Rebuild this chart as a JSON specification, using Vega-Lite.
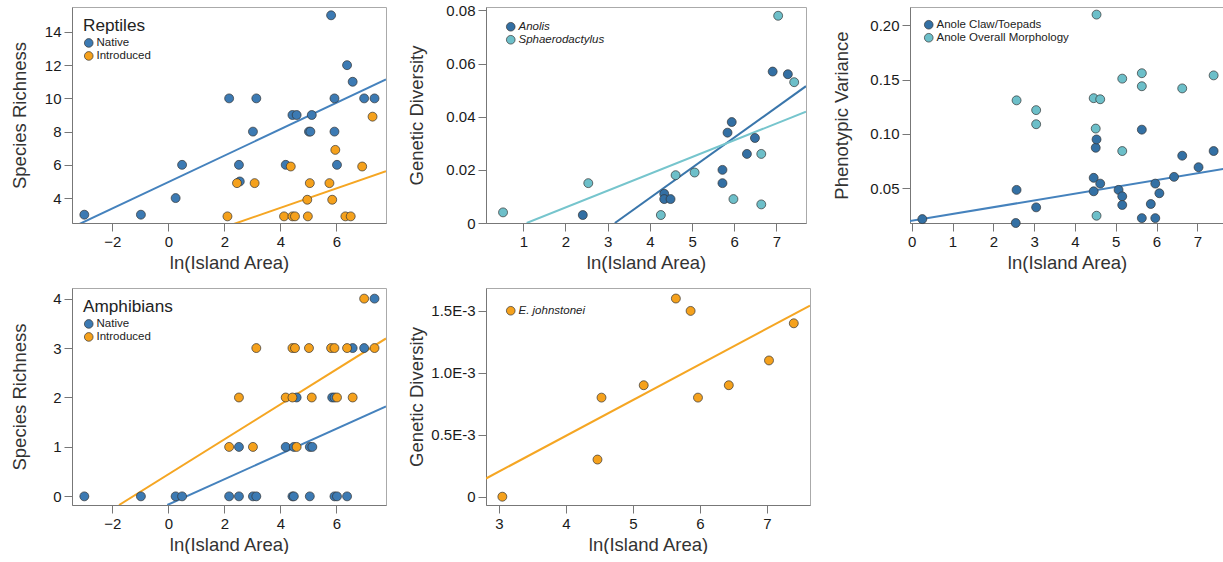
{
  "$schema": "https://vega.github.io/schema/vega-lite/v6.json",
  "padding": {"left": 10, "top": 2, "right": 0, "bottom": 0},
  "background": "white",
  "datasets": {
    "p1_points": [
      {"x": -3, "y": 3, "group": "Native"}, {"x": -0.98, "y": 3, "group": "Native"}, {"x": 0.26, "y": 4, "group": "Native"},
      {"x": 0.49, "y": 6, "group": "Native"}, {"x": 2.17, "y": 10, "group": "Native"}, {"x": 3.14, "y": 10, "group": "Native"},
      {"x": 3.02, "y": 8, "group": "Native"}, {"x": 2.52, "y": 6, "group": "Native"}, {"x": 2.55, "y": 5, "group": "Native"},
      {"x": 4.19, "y": 6, "group": "Native"}, {"x": 4.43, "y": 9, "group": "Native"}, {"x": 4.58, "y": 9, "group": "Native"},
      {"x": 5.12, "y": 9, "group": "Native"}, {"x": 5.02, "y": 8, "group": "Native"}, {"x": 5.07, "y": 8, "group": "Native"},
      {"x": 5.81, "y": 15, "group": "Native"}, {"x": 5.93, "y": 10, "group": "Native"}, {"x": 5.93, "y": 8, "group": "Native"},
      {"x": 6.02, "y": 6, "group": "Native"}, {"x": 6.38, "y": 12, "group": "Native"}, {"x": 6.58, "y": 11, "group": "Native"},
      {"x": 6.99, "y": 10, "group": "Native"}, {"x": 7.36, "y": 10, "group": "Native"},
      {"x": 2.11, "y": 2.9, "group": "Introduced"}, {"x": 2.45, "y": 4.9, "group": "Introduced"}, {"x": 3.08, "y": 4.9, "group": "Introduced"},
      {"x": 4.37, "y": 5.9, "group": "Introduced"}, {"x": 4.13, "y": 2.9, "group": "Introduced"}, {"x": 4.43, "y": 2.9, "group": "Introduced"},
      {"x": 4.52, "y": 2.9, "group": "Introduced"}, {"x": 4.96, "y": 3.9, "group": "Introduced"}, {"x": 5.05, "y": 4.9, "group": "Introduced"},
      {"x": 4.98, "y": 2.9, "group": "Introduced"}, {"x": 5.75, "y": 4.9, "group": "Introduced"}, {"x": 5.96, "y": 6.9, "group": "Introduced"},
      {"x": 5.85, "y": 3.9, "group": "Introduced"}, {"x": 6.32, "y": 2.9, "group": "Introduced"}, {"x": 6.51, "y": 2.9, "group": "Introduced"},
      {"x": 6.92, "y": 5.9, "group": "Introduced"}, {"x": 7.29, "y": 8.9, "group": "Introduced"}
    ],
    "p1_lines": [
      {"x": -3.44, "y": 2.23, "group": "Native"}, {"x": 7.77, "y": 11.14, "group": "Native"},
      {"x": 2.3, "y": 2.42, "group": "Introduced"}, {"x": 7.77, "y": 5.62, "group": "Introduced"}
    ],
    "p2_points": [
      {"x": 2.41, "y": 0.003, "group": "Anolis"}, {"x": 4.34, "y": 0.011, "group": "Anolis"}, {"x": 4.34, "y": 0.009, "group": "Anolis"},
      {"x": 4.49, "y": 0.009, "group": "Anolis"}, {"x": 5.72, "y": 0.02, "group": "Anolis"}, {"x": 5.72, "y": 0.015, "group": "Anolis"},
      {"x": 5.84, "y": 0.034, "group": "Anolis"}, {"x": 5.94, "y": 0.038, "group": "Anolis"}, {"x": 6.3, "y": 0.026, "group": "Anolis"},
      {"x": 6.49, "y": 0.032, "group": "Anolis"}, {"x": 6.91, "y": 0.057, "group": "Anolis"}, {"x": 7.27, "y": 0.056, "group": "Anolis"},
      {"x": 0.52, "y": 0.004, "group": "Sphaerodactylus"}, {"x": 2.54, "y": 0.015, "group": "Sphaerodactylus"},
      {"x": 4.26, "y": 0.003, "group": "Sphaerodactylus"}, {"x": 4.61, "y": 0.018, "group": "Sphaerodactylus"},
      {"x": 5.06, "y": 0.019, "group": "Sphaerodactylus"}, {"x": 5.98, "y": 0.009, "group": "Sphaerodactylus"},
      {"x": 6.64, "y": 0.026, "group": "Sphaerodactylus"}, {"x": 6.64, "y": 0.007, "group": "Sphaerodactylus"},
      {"x": 7.04, "y": 0.078, "group": "Sphaerodactylus"}, {"x": 7.42, "y": 0.053, "group": "Sphaerodactylus"}
    ],
    "p2_lines": [
      {"x": 3.17, "y": 0, "group": "Anolis"}, {"x": 7.7, "y": 0.0515, "group": "Anolis"},
      {"x": 1.08, "y": 0, "group": "Sphaerodactylus"}, {"x": 7.7, "y": 0.0419, "group": "Sphaerodactylus"}
    ],
    "p3_points": [
      {"x": 0.26, "y": 0.0216, "group": "Anole Claw/Toepads"}, {"x": 2.57, "y": 0.0485, "group": "Anole Claw/Toepads"},
      {"x": 2.55, "y": 0.018, "group": "Anole Claw/Toepads"}, {"x": 3.05, "y": 0.0324, "group": "Anole Claw/Toepads"},
      {"x": 4.46, "y": 0.0596, "group": "Anole Claw/Toepads"}, {"x": 4.46, "y": 0.0472, "group": "Anole Claw/Toepads"},
      {"x": 4.51, "y": 0.0873, "group": "Anole Claw/Toepads"}, {"x": 4.53, "y": 0.095, "group": "Anole Claw/Toepads"},
      {"x": 4.62, "y": 0.0543, "group": "Anole Claw/Toepads"}, {"x": 5.07, "y": 0.0485, "group": "Anole Claw/Toepads"},
      {"x": 5.16, "y": 0.0426, "group": "Anole Claw/Toepads"}, {"x": 5.16, "y": 0.0346, "group": "Anole Claw/Toepads"},
      {"x": 5.64, "y": 0.104, "group": "Anole Claw/Toepads"}, {"x": 5.64, "y": 0.0225, "group": "Anole Claw/Toepads"},
      {"x": 5.86, "y": 0.0355, "group": "Anole Claw/Toepads"}, {"x": 5.97, "y": 0.0543, "group": "Anole Claw/Toepads"},
      {"x": 5.97, "y": 0.0225, "group": "Anole Claw/Toepads"}, {"x": 6.07, "y": 0.0454, "group": "Anole Claw/Toepads"},
      {"x": 6.43, "y": 0.0605, "group": "Anole Claw/Toepads"}, {"x": 6.63, "y": 0.08, "group": "Anole Claw/Toepads"},
      {"x": 7.03, "y": 0.0694, "group": "Anole Claw/Toepads"}, {"x": 7.4, "y": 0.0843, "group": "Anole Claw/Toepads"},
      {"x": 2.57, "y": 0.131, "group": "Anole Overall Morphology"}, {"x": 3.05, "y": 0.122, "group": "Anole Overall Morphology"},
      {"x": 3.05, "y": 0.109, "group": "Anole Overall Morphology"}, {"x": 4.46, "y": 0.133, "group": "Anole Overall Morphology"},
      {"x": 4.62, "y": 0.132, "group": "Anole Overall Morphology"}, {"x": 4.51, "y": 0.105, "group": "Anole Overall Morphology"},
      {"x": 4.53, "y": 0.21, "group": "Anole Overall Morphology"}, {"x": 4.53, "y": 0.0247, "group": "Anole Overall Morphology"},
      {"x": 5.16, "y": 0.151, "group": "Anole Overall Morphology"}, {"x": 5.16, "y": 0.0843, "group": "Anole Overall Morphology"},
      {"x": 5.64, "y": 0.156, "group": "Anole Overall Morphology"}, {"x": 5.64, "y": 0.144, "group": "Anole Overall Morphology"},
      {"x": 6.63, "y": 0.142, "group": "Anole Overall Morphology"}, {"x": 7.4, "y": 0.154, "group": "Anole Overall Morphology"}
    ],
    "p3_lines": [
      {"x": -0.05, "y": 0.0197, "group": "Anole Claw/Toepads"}, {"x": 7.7, "y": 0.0682, "group": "Anole Claw/Toepads"}
    ],
    "p4_points": [
      {"x": -3, "y": 0, "group": "Native"}, {"x": -0.98, "y": 0, "group": "Native"}, {"x": 0.26, "y": 0, "group": "Native"},
      {"x": 0.49, "y": 0, "group": "Native"}, {"x": 2.17, "y": 0, "group": "Native"}, {"x": 2.52, "y": 0, "group": "Native"},
      {"x": 3.02, "y": 0, "group": "Native"}, {"x": 3.14, "y": 0, "group": "Native"}, {"x": 4.43, "y": 0, "group": "Native"},
      {"x": 4.48, "y": 0, "group": "Native"}, {"x": 5.05, "y": 0, "group": "Native"}, {"x": 5.93, "y": 0, "group": "Native"},
      {"x": 6.02, "y": 0, "group": "Native"}, {"x": 6.38, "y": 0, "group": "Native"},
      {"x": 2.52, "y": 1, "group": "Native"}, {"x": 4.19, "y": 1, "group": "Native"}, {"x": 4.48, "y": 1, "group": "Native"},
      {"x": 5.05, "y": 1, "group": "Native"}, {"x": 5.14, "y": 1, "group": "Native"},
      {"x": 4.58, "y": 2, "group": "Native"}, {"x": 5.85, "y": 2, "group": "Native"}, {"x": 5.93, "y": 2, "group": "Native"},
      {"x": 6.58, "y": 3, "group": "Native"}, {"x": 6.99, "y": 3, "group": "Native"}, {"x": 7.36, "y": 4, "group": "Native"},
      {"x": 2.17, "y": 1, "group": "Introduced"}, {"x": 3.02, "y": 1, "group": "Introduced"}, {"x": 4.58, "y": 1, "group": "Introduced"},
      {"x": 2.52, "y": 2, "group": "Introduced"}, {"x": 4.19, "y": 2, "group": "Introduced"}, {"x": 4.43, "y": 2, "group": "Introduced"},
      {"x": 5.12, "y": 2, "group": "Introduced"}, {"x": 6.02, "y": 2, "group": "Introduced"}, {"x": 6.58, "y": 2, "group": "Introduced"},
      {"x": 3.14, "y": 3, "group": "Introduced"}, {"x": 4.43, "y": 3, "group": "Introduced"}, {"x": 4.52, "y": 3, "group": "Introduced"},
      {"x": 5.02, "y": 3, "group": "Introduced"}, {"x": 5.81, "y": 3, "group": "Introduced"}, {"x": 5.93, "y": 3, "group": "Introduced"},
      {"x": 6.38, "y": 3, "group": "Introduced"}, {"x": 7.36, "y": 3, "group": "Introduced"}, {"x": 6.99, "y": 4, "group": "Introduced"}
    ],
    "p4_lines": [
      {"x": -1.76, "y": -0.175, "group": "Introduced"}, {"x": 7.77, "y": 3.194, "group": "Introduced"},
      {"x": -0.036, "y": -0.175, "group": "Native"}, {"x": 7.77, "y": 1.82, "group": "Native"}
    ],
    "p5_points": [
      {"x": 3.05, "y": 0, "group": "E. johnstonei"}, {"x": 4.47, "y": 0.0003, "group": "E. johnstonei"},
      {"x": 4.53, "y": 0.0008, "group": "E. johnstonei"}, {"x": 5.16, "y": 0.0009, "group": "E. johnstonei"},
      {"x": 5.64, "y": 0.0016, "group": "E. johnstonei"}, {"x": 5.86, "y": 0.0015, "group": "E. johnstonei"},
      {"x": 5.97, "y": 0.0008, "group": "E. johnstonei"}, {"x": 6.43, "y": 0.0009, "group": "E. johnstonei"},
      {"x": 7.03, "y": 0.0011, "group": "E. johnstonei"}, {"x": 7.4, "y": 0.0014, "group": "E. johnstonei"}
    ],
    "p5_lines": [
      {"x": 2.806, "y": 0.000147, "group": "E. johnstonei"}, {"x": 7.642, "y": 0.001543, "group": "E. johnstonei"}
    ]
  },
  "columns": 3,
  "bounds": "flush",
  "spacing": {"row": 65, "column": 100},
  "resolve": {
    "scale": {"x": "independent", "y": "independent", "fill": "independent"},
    "legend": {"fill": "independent"}
  },
  "concat": [
    {
      "width": 314, "height": 216,
      "encoding": {
        "x": {"field": "x", "type": "quantitative", "scale": {"domain": [-3.44, 7.77], "nice": false, "zero": false},
              "axis": {"values": [-2, 0, 2, 4, 6], "format": "d", "title": "ln(Island Area)"}},
        "y": {"field": "y", "type": "quantitative", "scale": {"domain": [2.5, 15.5], "nice": false, "zero": false},
              "axis": {"values": [4, 6, 8, 10, 12, 14], "format": "d", "title": "Species Richness", "titleX": -42.5}}
      },
      "layer": [
        {"data": {"name": "p1_lines"}, "transform": [{"filter": "datum.group == 'Native'"}],
         "mark": {"type": "line", "clip": true, "strokeWidth": 2, "color": "#4582bd"}, "encoding": {}},
        {"data": {"name": "p1_lines"}, "transform": [{"filter": "datum.group == 'Introduced'"}],
         "mark": {"type": "line", "clip": true, "strokeWidth": 2, "color": "#f5a623"}, "encoding": {}},
        {"data": {"name": "p1_points"}, "mark": {"type": "point", "shape": "circle", "filled": true, "size": 80, "stroke": "#333333", "strokeWidth": 0.7, "opacity": 1},
         "encoding": {"fill": {"field": "group", "type": "nominal", "scale": {"domain": ["Native", "Introduced"], "range": ["#3c7ab3", "#f5a11c"]},
                               "legend": {"title": "Reptiles", "orient": "none", "legendX": 11, "legendY": 10}}}}
      ]
    },
    {
      "width": 320, "height": 216,
      "encoding": {
        "x": {"field": "x", "type": "quantitative", "scale": {"domain": [0.116, 7.7], "nice": false, "zero": false},
              "axis": {"values": [1, 2, 3, 4, 5, 6, 7], "format": "d", "title": "ln(Island Area)"}},
        "y": {"field": "y", "type": "quantitative", "scale": {"domain": [0, 0.0813], "nice": false, "zero": false},
              "axis": {"values": [0, 0.02, 0.04, 0.06, 0.08], "labelExpr": "datum.value == 0 ? '0' : format(datum.value, '.2f')", "title": "Genetic Diversity", "titleX": -60}}
      },
      "layer": [
        {"data": {"name": "p2_lines"}, "transform": [{"filter": "datum.group == 'Anolis'"}],
         "mark": {"type": "line", "clip": true, "strokeWidth": 2, "color": "#3a76ab"}, "encoding": {}},
        {"data": {"name": "p2_lines"}, "transform": [{"filter": "datum.group == 'Sphaerodactylus'"}],
         "mark": {"type": "line", "clip": true, "strokeWidth": 2, "color": "#76c5cd"}, "encoding": {}},
        {"data": {"name": "p2_points"}, "mark": {"type": "point", "shape": "circle", "filled": true, "size": 80, "stroke": "#333333", "strokeWidth": 0.7, "opacity": 1},
         "encoding": {"fill": {"field": "group", "type": "nominal", "scale": {"domain": ["Anolis", "Sphaerodactylus"], "range": ["#336fa3", "#6dbfc9"]},
                               "legend": {"title": null, "orient": "none", "legendX": 19, "legendY": 14, "labelFontStyle": "italic"}}}}
      ]
    },
    {
      "width": 314, "height": 216,
      "encoding": {
        "x": {"field": "x", "type": "quantitative", "scale": {"domain": [-0.042, 7.654], "nice": false, "zero": false},
              "axis": {"values": [0, 1, 2, 3, 4, 5, 6, 7], "format": "d", "title": "ln(Island Area)"}},
        "y": {"field": "y", "type": "quantitative", "scale": {"domain": [0.018, 0.217], "nice": false, "zero": false},
              "axis": {"values": [0.05, 0.1, 0.15, 0.2], "format": ".2f", "title": "Phenotypic Variance", "titleX": -59}}
      },
      "layer": [
        {"data": {"name": "p3_lines"}, "mark": {"type": "line", "clip": true, "strokeWidth": 2, "color": "#4582bd"}, "encoding": {}},
        {"data": {"name": "p3_points"}, "mark": {"type": "point", "shape": "circle", "filled": true, "size": 80, "stroke": "#333333", "strokeWidth": 0.7, "opacity": 1},
         "encoding": {"fill": {"field": "group", "type": "nominal", "scale": {"domain": ["Anole Claw/Toepads", "Anole Overall Morphology"], "range": ["#3370a4", "#6cbfc9"]},
                               "legend": {"title": null, "orient": "none", "legendX": 13, "legendY": 12}}}}
      ]
    },
    {
      "width": 314, "height": 217,
      "encoding": {
        "x": {"field": "x", "type": "quantitative", "scale": {"domain": [-3.44, 7.77], "nice": false, "zero": false},
              "axis": {"values": [-2, 0, 2, 4, 6], "format": "d", "title": "ln(Island Area)"}},
        "y": {"field": "y", "type": "quantitative", "scale": {"domain": [-0.175, 4.215], "nice": false, "zero": false},
              "axis": {"values": [0, 1, 2, 3, 4], "format": "d", "title": "Species Richness", "titleX": -42.5}}
      },
      "layer": [
        {"data": {"name": "p4_lines"}, "transform": [{"filter": "datum.group == 'Introduced'"}],
         "mark": {"type": "line", "clip": true, "strokeWidth": 2, "color": "#f5a623"}, "encoding": {}},
        {"data": {"name": "p4_lines"}, "transform": [{"filter": "datum.group == 'Native'"}],
         "mark": {"type": "line", "clip": true, "strokeWidth": 2, "color": "#4582bd"}, "encoding": {}},
        {"data": {"name": "p4_points"}, "mark": {"type": "point", "shape": "circle", "filled": true, "size": 80, "stroke": "#333333", "strokeWidth": 0.7, "opacity": 1},
         "encoding": {"fill": {"field": "group", "type": "nominal", "scale": {"domain": ["Native", "Introduced"], "range": ["#3c7ab3", "#f5a11c"]},
                               "legend": {"title": "Amphibians", "orient": "none", "legendX": 11, "legendY": 10}}}}
      ]
    },
    {
      "width": 324, "height": 217,
      "encoding": {
        "x": {"field": "x", "type": "quantitative", "scale": {"domain": [2.806, 7.642], "nice": false, "zero": false},
              "axis": {"values": [3, 4, 5, 6, 7], "format": "d", "title": "ln(Island Area)"}},
        "y": {"field": "y", "type": "quantitative", "scale": {"domain": [-0.000067, 0.001685], "nice": false, "zero": false},
              "axis": {"values": [0, 0.0005, 0.001, 0.0015], "labelExpr": "datum.value == 0 ? '0' : format(datum.value * 1000, '.1f') + 'E-3'", "title": "Genetic Diversity", "titleX": -60}}
      },
      "layer": [
        {"data": {"name": "p5_lines"}, "mark": {"type": "line", "clip": true, "strokeWidth": 2, "color": "#f5a623"}, "encoding": {}},
        {"data": {"name": "p5_points"}, "mark": {"type": "point", "shape": "circle", "filled": true, "size": 80, "stroke": "#333333", "strokeWidth": 0.7, "opacity": 1},
         "encoding": {"fill": {"field": "group", "type": "nominal", "scale": {"domain": ["E. johnstonei"], "range": ["#f5a11c"]},
                               "legend": {"title": null, "orient": "none", "legendX": 19, "legendY": 17, "labelFontStyle": "italic"}}}}
      ]
    }
  ],
  "config": {
    "font": "Liberation Sans",
    "view": {"stroke": "#aaaaaa", "strokeWidth": 1},
    "axis": {
      "grid": false, "labelFont": "Liberation Sans", "titleFont": "Liberation Sans",
      "labelFontSize": 15, "titleFontSize": 18.5, "titleFontWeight": "normal",
      "labelColor": "#1a1a1a", "titleColor": "#333333", "domainColor": "#777777", "tickColor": "#777777",
      "tickSize": 8, "labelPadding": 3
    },
    "axisX": {"titlePadding": 4},
    "legend": {
      "labelFont": "Liberation Sans", "titleFont": "Liberation Sans",
      "labelFontSize": 11.5, "titleFontSize": 17.2, "titleFontWeight": "normal",
      "labelColor": "#222222", "titleColor": "#222222",
      "symbolType": "circle", "symbolSize": 75, "symbolStrokeColor": "#333333", "symbolStrokeWidth": 0.7,
      "rowPadding": 0, "labelOffset": 2, "padding": 0, "titlePadding": 3
    }
  }
}
